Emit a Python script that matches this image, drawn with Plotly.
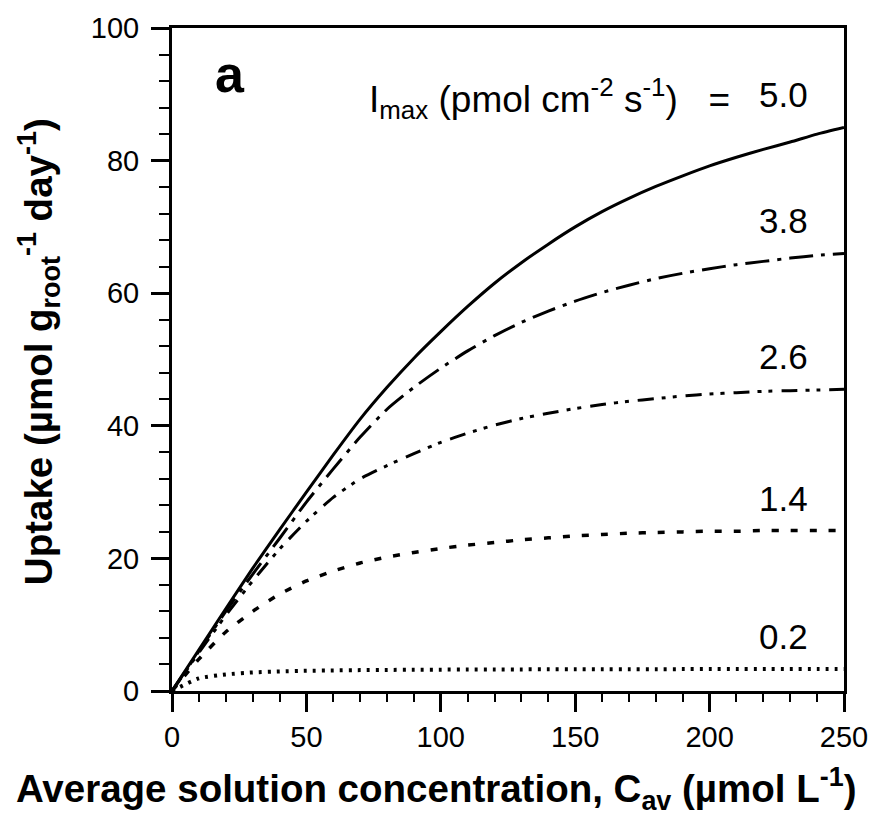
import plotly.graph_objects as go

# ---- data ----
conc = [0, 10, 20, 30, 40, 50, 60, 70, 80, 90, 100, 110, 120, 130, 140, 150,
        160, 170, 180, 190, 200, 210, 220, 230, 240, 250]

uptake_5_0 = [0, 6.2, 12.4, 18.5, 24.3, 30.0, 35.6, 41.0, 45.8, 50.2, 54.2, 58.0,
              61.5, 64.6, 67.4, 70.0, 72.3, 74.3, 76.1, 77.7, 79.2, 80.5, 81.7,
              82.8, 84.0, 85.0]
uptake_3_8 = [0, 6.0, 12.0, 17.6, 23.0, 28.5, 33.5, 38.3, 42.5, 45.8, 48.7, 51.3,
              53.6, 55.6, 57.3, 58.8, 60.1, 61.2, 62.2, 63.0, 63.7, 64.3, 64.8,
              65.3, 65.7, 66.0]
uptake_2_6 = [0, 5.8, 11.4, 16.6, 21.4, 25.6, 29.2, 32.0, 34.0, 35.8, 37.5, 38.9,
              40.1, 41.1, 41.9, 42.6, 43.2, 43.7, 44.1, 44.5, 44.8, 45.0, 45.2,
              45.3, 45.4, 45.5]
uptake_1_4 = [0, 4.8, 8.9, 12.0, 14.6, 16.6, 18.1, 19.3, 20.2, 20.9, 21.5, 22.0,
              22.4, 22.8, 23.1, 23.4, 23.6, 23.8, 23.9, 24.0, 24.1, 24.1, 24.2,
              24.2, 24.2, 24.2]
uptake_0_2 = [0, 1.9, 2.5, 2.8, 2.95, 3.05, 3.1, 3.15, 3.18, 3.2, 3.22, 3.24,
              3.25, 3.26, 3.27, 3.28, 3.28, 3.29, 3.29, 3.3, 3.3, 3.3, 3.3,
              3.3, 3.3, 3.3]

imax_labels = ["5.0", "3.8", "2.6", "1.4", "0.2"]
series = [uptake_5_0, uptake_3_8, uptake_2_6, uptake_1_4, uptake_0_2]
dashes = ["solid", "24px,8px,4px,8px", "16px,8px,4px,7px,4px,9px", "7px,12px", "3px,6px"]
widths = [3, 3, 3, 3.5, 4]

x_ticks = [0, 50, 100, 150, 200, 250]
y_ticks = [0, 20, 40, 60, 80, 100]

FONT = "Liberation Sans, Arial, Helvetica, sans-serif"

fig = go.Figure()
for lab, ys, d, w in zip(imax_labels, series, dashes, widths):
    fig.add_trace(go.Scatter(
        x=conc, y=ys, mode="lines", name=lab,
        line=dict(color="black", width=w, dash=d, shape="spline", smoothing=0.6),
        showlegend=False, hoverinfo="skip"))

# value labels at right end of each curve
for lab, ys in zip(imax_labels, series):
    fig.add_annotation(x=237.5, y=ys[-1] + 4.9, xref="x", yref="y", text=lab,
                       showarrow=False, xanchor="right", yanchor="middle",
                       font=dict(family=FONT, size=35, color="black"))

fig.add_annotation(x=208.5, y=89.3, xref="x", yref="y",
                   text="I<sub>max</sub> (pmol cm<sup>-2</sup> s<sup>-1</sup>)&nbsp;&nbsp;&nbsp;=",
                   showarrow=False, xanchor="right", yanchor="middle",
                   font=dict(family=FONT, size=37, color="black"))

fig.add_annotation(x=21.7, y=93, xref="x", yref="y", text="<b>a</b>",
                   showarrow=False, xanchor="center", yanchor="middle",
                   font=dict(family=FONT, size=52, color="black"))

# axis titles
fig.add_annotation(x=0.394, y=-0.148, xref="paper", yref="paper",
                   text="<b>Average solution concentration, C<sub>av</sub> (µmol L<sup>-1</sup>)</b>",
                   showarrow=False, xanchor="center", yanchor="middle",
                   font=dict(family=FONT, size=38.5, color="black"))
fig.add_annotation(x=-0.1985, y=0.512, xref="paper", yref="paper", textangle=-90,
                   text="<b>Uptake (µmol g<sub>root</sub><sup>-1</sup> day<sup>-1</sup>)</b>",
                   showarrow=False, xanchor="center", yanchor="middle",
                   font=dict(family=FONT, size=38.5, color="black"))

axis_common = dict(showline=True, linewidth=3, linecolor="black", mirror=True,
                   showgrid=False, zeroline=False, ticks="outside", ticklen=18,
                   tickwidth=2.5, tickcolor="black",
                   tickfont=dict(family=FONT, size=29, color="black"))

fig.update_xaxes(range=[0, 250], tickvals=x_ticks,
                 minor=dict(dtick=10, ticklen=8, tickwidth=2, tickcolor="black", ticks="outside"),
                 ticklabelstandoff=0,
                 **axis_common)
fig.update_yaxes(range=[0, 100], tickvals=y_ticks,
                 minor=dict(dtick=4, ticklen=10, tickwidth=2, tickcolor="black", ticks="outside"),
                 ticklabelstandoff=6,
                 **axis_common)

fig.update_layout(width=880, height=816,
                  margin=dict(l=172, r=27, t=25, b=125),
                  paper_bgcolor="white", plot_bgcolor="white",
                  font=dict(family=FONT, color="black"))

fig.write_html("out.html")
